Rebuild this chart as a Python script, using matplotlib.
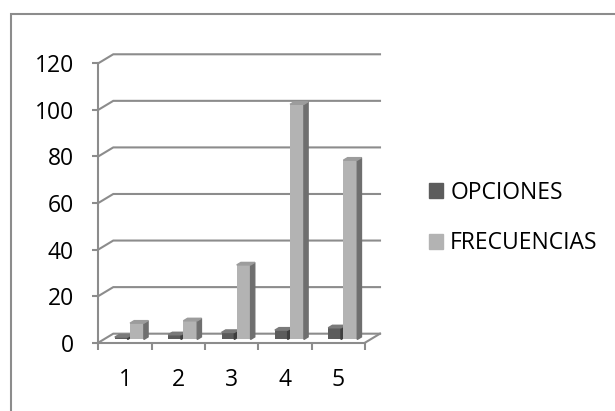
import matplotlib.pyplot as plt
from matplotlib.patches import Polygon, Rectangle, Patch

# Datos del gráfico
categorias = ["1", "2", "3", "4", "5"]
opciones = [1, 2, 3, 4, 5]
frecuencias = [7, 8, 32, 101, 77]
series = ["OPCIONES", "FRECUENCIAS"]

# Colores (frente, lado, tapa)
col_osc = ("#5c5c5c", "#3e3e3e", "#7a7a7a")
col_cla = ("#b3b3b3", "#6f6f6f", "#9c9c9c")
gris = "#8c8c8c"

plt.rcParams["font.family"] = ["Open Sans", "DejaVu Sans"]

fig = plt.figure(figsize=(6.15, 4.11), dpi=100)
ax = fig.add_axes([0.1598, 0.1662, 0.4337, 0.6798])
ax.set_xlim(0, 5)
ax.set_ylim(0, 120)

# Profundidad oblicua (en unidades de datos)
dx, dy = 0.281, 3.87
f0, f1 = 0.36, 0.64  # posición de las barras dentro de la profundidad
bdx, bdy = (f1 - f0) * dx, (f1 - f0) * dy
base = f0 * dy

# Pared del fondo y lineas laterales
for v in range(0, 121, 20):
    ax.plot([0, dx, 5 + dx], [v, v + dy, v + dy], color=gris, lw=1.5,
            clip_on=False, zorder=1, solid_joinstyle="miter")
ax.plot([5, 5 + dx], [0, dy], color=gris, lw=1.5, clip_on=False, zorder=1)


def barra(x0, ancho, valor, colores):
    x1 = x0 + ancho
    top = base + valor
    ax.bar(x0, valor, ancho, bottom=base, align="edge", color=colores[0],
           zorder=3, clip_on=False)
    lado = [(x1, base), (x1 + bdx, base + bdy), (x1 + bdx, top + bdy), (x1, top)]
    tapa = [(x0, top), (x0 + bdx, top + bdy), (x1 + bdx, top + bdy), (x1, top)]
    ax.add_patch(Polygon(lado, closed=True, color=colores[1], zorder=3, clip_on=False))
    ax.add_patch(Polygon(tapa, closed=True, color=colores[2], zorder=3, clip_on=False))


ancho = 0.26
for i in range(len(categorias)):
    barra(i + 0.31, ancho - 0.02, opciones[i], col_osc)
    barra(i + 0.595, ancho, frecuencias[i], col_cla)

# Ejes
for s in ["top", "right"]:
    ax.spines[s].set_visible(False)
for s in ["left", "bottom"]:
    ax.spines[s].set_color(gris)
    ax.spines[s].set_linewidth(1.5)
    ax.spines[s].set_zorder(4)

ax.set_yticks(range(0, 121, 20))
ax.tick_params(axis="y", length=4.5, width=1.5, color=gris, pad=13, labelsize=16.5)
ax.set_xticks(range(0, 6))
ax.set_xticklabels([])
ax.tick_params(axis="x", which="major", length=5, width=1.5, color=gris)
ax.set_xticks([i + 0.5 for i in range(5)], minor=True)
ax.set_xticklabels(categorias, minor=True)
ax.tick_params(axis="x", which="minor", length=0, pad=18, labelsize=16.5)

# Leyenda
manejadores = [Patch(color=col_osc[0]), Patch(color=col_cla[0])]
fig.legend(manejadores, series, loc="center left", bbox_to_anchor=(0.697, 0.4696),
           frameon=False, fontsize=16.5, handlelength=0.64, handleheight=0.64,
           handletextpad=0.3, labelspacing=1.15, borderpad=0, borderaxespad=0)

# Marco exterior
fig.add_artist(Rectangle((11 / 615, -0.1), 1.0, 0.966 + 0.1, transform=fig.transFigure,
                         fill=False, edgecolor=gris, lw=1.5))

fig.savefig("out.png", dpi=100)
